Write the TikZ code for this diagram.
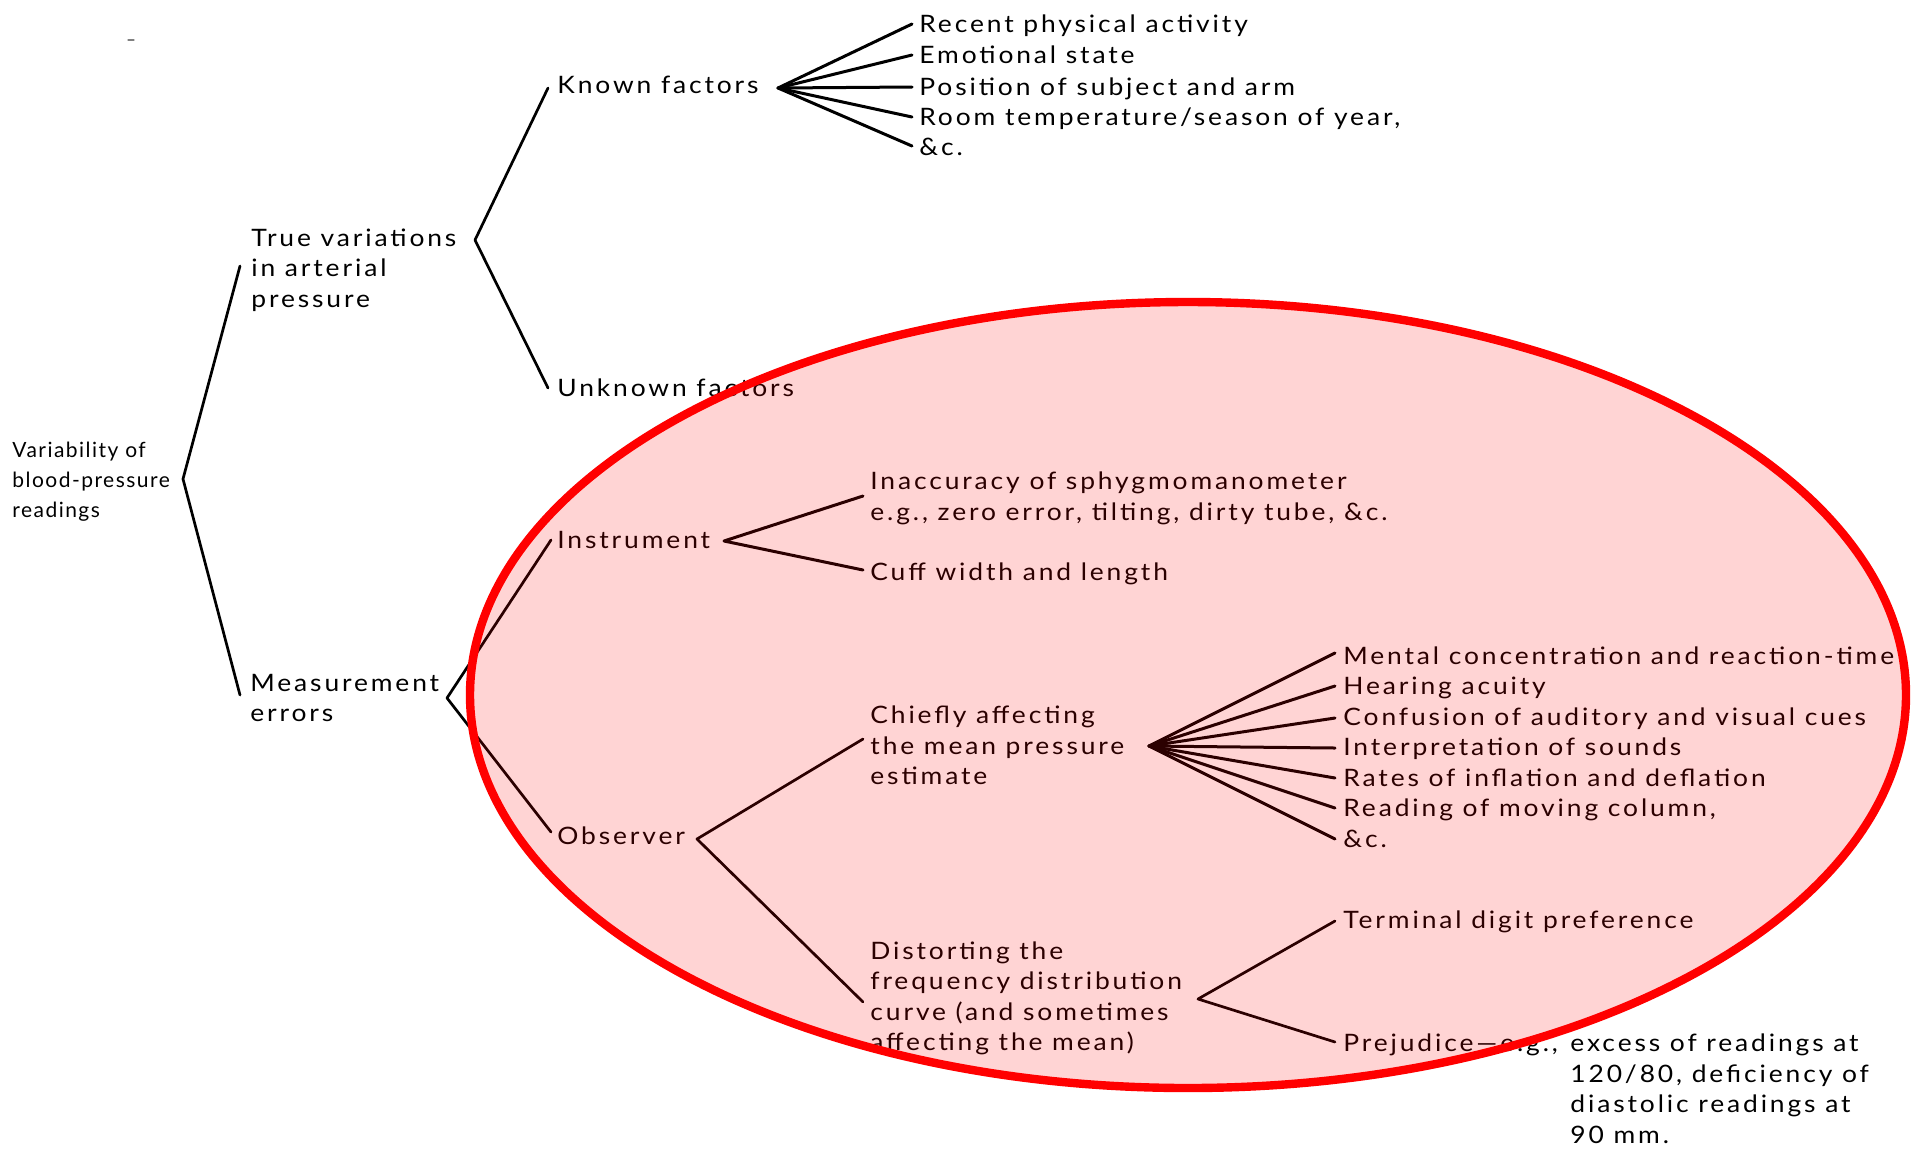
\documentclass[tikz,border=0pt]{standalone}
\usepackage{fontspec}
\setmainfont[LetterSpace=12,FakeStretch=1.1]{Lato}
\newfontfamily\smallfam[LetterSpace=7]{Lato}
\begin{document}
\begin{tikzpicture}[x=0.5pt,y=-0.5pt,line cap=round,line join=round]
\tikzset{
  lbl/.style={anchor=base west,inner sep=0pt,font=\fontsize{12}{14}\selectfont,text=black},
  lblsmall/.style={anchor=base west,inner sep=0pt,font=\smallfam\fontsize{10.5}{12}\selectfont,text=black},
  brk/.style={line width=1.35pt,black},
  fan/.style={line width=1.5pt,black},
  blob/.style={draw=red,line width=4.2pt,fill=red,fill opacity=0.17}
}
\useasboundingbox (0,0) rectangle (1911,1153);
\draw[gray,line width=0.6pt] (128,40) -- (134,40);
% root
\node[lblsmall] (v1) at (12,457) {Variability of};
\node[lblsmall] (v2) at (12,487) {blood-pressure};
\node[lblsmall] (v3) at (12,517) {readings};
\coordinate (V0) at (183,479);
\coordinate (T0a) at (240,266);
\coordinate (T0b) at (240,695);
% true variations
\node[lbl] (t1) at (251,246) {True variations};
\node[lbl] (t2) at (251,276) {in arterial};
\node[lbl] (t3) at (251,307) {pressure};
\coordinate (V1) at (475,240);
\coordinate (K0) at (548,88);
\coordinate (U0) at (548,388);
\node[lbl] (known) at (557,93) {Known factors};
\node[lbl] (unknown) at (557,396) {Unknown factors};
\coordinate (VK) at (778,88);
\coordinate (k1) at (912,24);
\coordinate (k2) at (912,55);
\coordinate (k3) at (912,87);
\coordinate (k4) at (912,117);
\coordinate (k5) at (912,146);
\node[lbl] (kt1) at (919,32) {Recent physical activity};
\node[lbl] (kt2) at (919,63) {Emotional state};
\node[lbl] (kt3) at (919,95) {Position of subject and arm};
\node[lbl] (kt4) at (919,125) {Room temperature/season of year,};
\node[lbl] (kt5) at (919,155) {\&c.};
% measurement
\node[lbl] (m1) at (250,691) {Measurement};
\node[lbl] (m2) at (250,721) {errors};
\coordinate (VM) at (447,698);
\coordinate (I0) at (551,540);
\coordinate (O0) at (551,832);
\node[lbl] (instr) at (557,548) {Instrument};
\coordinate (VI) at (724,541);
\coordinate (i1) at (863,496);
\coordinate (i2) at (863,570);
\node[lbl] (it1) at (870,489) {Inaccuracy of sphygmomanometer};
\node[lbl] (it1b) at (870,520) {e.g., zero error, tilting, dirty tube, \&c.};
\node[lbl] (it2) at (870,580) {Cuff width and length};
\node[lbl] (obs) at (557,844) {Observer};
\coordinate (VO) at (697,839);
\coordinate (C0) at (863,739);
\coordinate (D0) at (863,1002);
\node[lbl] (c1) at (870,723) {Chiefly affecting};
\node[lbl] (c2) at (870,754) {the mean pressure};
\node[lbl] (c3) at (870,784) {estimate};
\coordinate (VC) at (1149,746);
\coordinate (e1) at (1335,653);
\coordinate (e2) at (1335,686);
\coordinate (e3) at (1335,718);
\coordinate (e4) at (1335,748);
\coordinate (e5) at (1335,778);
\coordinate (e6) at (1335,808);
\coordinate (e7) at (1335,839);
\node[lbl] (et1) at (1343,664) {Mental concentration and reaction-time};
\node[lbl] (et2) at (1343,694) {Hearing acuity};
\node[lbl] (et3) at (1343,725) {Confusion of auditory and visual cues};
\node[lbl] (et4) at (1343,755) {Interpretation of sounds};
\node[lbl] (et5) at (1343,786) {Rates of inflation and deflation};
\node[lbl] (et6) at (1343,816) {Reading of moving column,};
\node[lbl] (et7) at (1343,847) {\&c.};
\node[lbl] (d1) at (870,959) {Distorting the};
\node[lbl] (d2) at (870,989) {frequency distribution};
\node[lbl] (d3) at (870,1020) {curve (and sometimes};
\node[lbl] (d4) at (870,1050) {affecting the mean)};
\coordinate (VD) at (1198,999);
\coordinate (p1) at (1335,921);
\coordinate (p2) at (1335,1042);
\node[lbl] (pt1) at (1343,928) {Terminal digit preference};
\node[lbl] (pt2) at (1343,1051) {Prejudice---e.g.,};
\node[lbl] (pt2b) at (1570,1051) {excess of readings at};
\node[lbl] (pt2c) at (1570,1082) {120/80, deficiency of};
\node[lbl] (pt2d) at (1570,1112) {diastolic readings at};
\node[lbl] (pt2e) at (1570,1143) {90 mm.};
% connectors
\draw[brk] (T0a) -- (V0) -- (T0b);
\draw[brk] (K0) -- (V1) -- (U0);
\foreach \k in {k1,k2,k3,k4,k5} \draw[fan] (VK) -- (\k);
\draw[brk] (I0) -- (VM) -- (O0);
\draw[fan] (i1) -- (VI) -- (i2);
\draw[brk] (C0) -- (VO) -- (D0);
\foreach \k in {e1,e2,e3,e4,e5,e6,e7} \draw[fan] (VC) -- (\k);
\draw[brk] (p1) -- (VD) -- (p2);
% highlight
\path[blob] (1188,695) ellipse [x radius=718,y radius=393];
\end{tikzpicture}
\end{document}
